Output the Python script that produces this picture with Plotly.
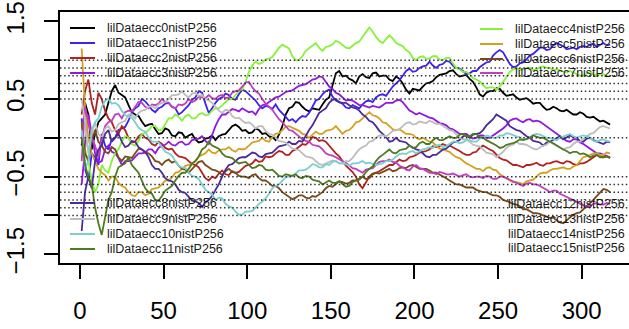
import plotly.graph_objects as go

# ---------------- data ----------------
x_main = list(range(1, 318, 4))   # samples at x = 1, 5, ..., 317
x_mid = list(range(3, 316, 4))    # samples at x = 3, 7, ..., 315

series_names = ["lilDataecc%dnistP256" % i for i in range(16)]
series_colors = ["#000000", "#3F22EE", "#B22222", "#9218E0", "#86F23A", "#D4A020",
                 "#7A4A18", "#C23DC0", "#4B2A9A", "#BDBDBD", "#7ACFCF", "#4E7A22"]

y_ecc0 = [-0.10, 0.30, 0.05, 0.25, 0.45, 0.68, 0.55, 0.42, 0.30, 0.21,
          0.17, 0.11, 0.06, 0.10, 0.02, 0.06, 0.03, -0.02, -0.05, 0.00,
          -0.03, 0.04, 0.10, 0.17, 0.09, 0.06, 0.12, 0.05, 0.02, -0.03,
          0.15, 0.38, 0.46, 0.40, 0.34, 0.37, 0.43, 0.52, 0.83, 0.79,
          0.76, 0.70, 0.82, 0.77, 0.84, 0.80, 0.75, 0.79, 0.70, 0.57,
          0.62, 0.66, 0.71, 0.78, 0.82, 0.86, 0.82, 0.80, 0.76, 0.65,
          0.53, 0.60, 0.64, 0.58, 0.55, 0.52, 0.50, 0.48, 0.45, 0.40,
          0.37, 0.38, 0.34, 0.33, 0.30, 0.31, 0.26, 0.24, 0.22, 0.17]
y_ecc0_mid = [0.45, -0.15, 0.20, 0.30, 0.60, 0.58, 0.52, 0.33, 0.28, 0.15,
              0.18, 0.05, 0.12, 0.03, 0.07, 0.00, 0.05, -0.06, -0.01, 0.03,
              0.02, 0.05, 0.15, 0.14, 0.10, 0.07, 0.10, 0.06, 0.01, 0.04,
              0.30, 0.40, 0.45, 0.36, 0.38, 0.36, 0.49, 0.66, 0.86, 0.80,
              0.74, 0.79, 0.78, 0.83, 0.79, 0.80, 0.73, 0.76, 0.62, 0.63,
              0.61, 0.70, 0.73, 0.81, 0.83, 0.87, 0.79, 0.81, 0.72, 0.56,
              0.58, 0.60, 0.63, 0.54, 0.56, 0.49, 0.51, 0.44, 0.45, 0.36,
              0.40, 0.35, 0.36, 0.30, 0.33, 0.27, 0.27, 0.21, 0.20]

y_ecc1 = [0.25, -0.55, -0.25, 0.05, -0.15, 0.00, 0.12, 0.22, 0.38, 0.50,
          0.42, 0.33, 0.40, 0.45, 0.38, 0.33, 0.42, 0.52, 0.58, 0.32,
          0.45, 0.52, 0.55, 0.49, 0.62, 0.56, 0.48, 0.38, 0.40, 0.43,
          0.32, 0.22, 0.20, 0.28, 0.32, 0.48, 0.56, 0.62, 0.48, 0.44,
          0.38, 0.40, 0.43, 0.48, 0.52, 0.56, 0.60, 0.70, 0.80, 0.89,
          0.86, 0.92, 0.98, 0.90, 0.95, 0.98, 0.90, 0.86, 0.83, 0.86,
          0.94, 0.98, 1.10, 1.10, 0.95, 0.92, 0.97, 1.06, 1.12, 1.16,
          1.14, 1.22, 1.18, 1.15, 1.14, 1.18, 1.20, 1.17, 1.22, 1.20]
y_ecc1_mid = [-0.40, -0.20, -0.35, -0.10, -0.02, 0.10, 0.14, 0.33, 0.41, 0.47,
              0.36, 0.38, 0.44, 0.40, 0.30, 0.38, 0.49, 0.60, 0.44, 0.38,
              0.50, 0.57, 0.50, 0.56, 0.60, 0.51, 0.42, 0.41, 0.37, 0.36,
              0.27, 0.24, 0.25, 0.27, 0.41, 0.50, 0.60, 0.53, 0.46, 0.39,
              0.42, 0.38, 0.47, 0.46, 0.55, 0.54, 0.66, 0.74, 0.86, 0.85,
              0.90, 0.93, 0.93, 0.94, 0.99, 0.93, 0.89, 0.82, 0.86, 0.91,
              0.97, 1.06, 1.13, 1.02, 0.91, 0.96, 1.01, 1.08, 1.16, 1.13,
              1.19, 1.20, 1.14, 1.16, 1.17, 1.17, 1.21, 1.19, 1.19]

y_ecc2 = [0.30, 0.75, 0.30, 0.50, 0.25, 0.10, 0.15, 0.00, -0.05, 0.05,
          -0.02, -0.10, -0.08, -0.15, -0.20, -0.25, -0.30, -0.35, -0.45, -0.55,
          -0.52, -0.42, -0.48, -0.45, -0.40, -0.35, -0.28, -0.30, -0.25, -0.20,
          -0.18, -0.22, -0.15, -0.08, -0.05, 0.00, -0.03, -0.10, -0.20, -0.30,
          -0.40, -0.50, -0.65, -0.50, -0.45, -0.40, -0.35, -0.32, -0.30, -0.25,
          -0.22, -0.18, -0.15, -0.12, -0.08, -0.10, -0.15, -0.20, -0.22, -0.18,
          -0.10, -0.15, -0.22, -0.28, -0.32, -0.35, -0.38, -0.35, -0.32, -0.36,
          -0.33, -0.30, -0.33, -0.31, -0.35, -0.33, -0.28, -0.22, -0.25, -0.26]
y_ecc2_mid = [0.60, 0.45, 0.58, 0.35, 0.20, 0.05, 0.10, -0.06, 0.02, 0.00,
              -0.08, -0.05, -0.13, -0.14, -0.24, -0.26, -0.34, -0.38, -0.52, -0.50,
              -0.46, -0.47, -0.43, -0.44, -0.36, -0.33, -0.31, -0.24, -0.24, -0.17,
              -0.22, -0.17, -0.12, -0.09, 0.01, -0.04, -0.05, -0.16, -0.24, -0.36,
              -0.44, -0.60, -0.58, -0.46, -0.43, -0.37, -0.35, -0.28, -0.29, -0.24,
              -0.19, -0.17, -0.11, -0.11, -0.10, -0.12, -0.17, -0.22, -0.19, -0.13,
              -0.13, -0.17, -0.26, -0.29, -0.35, -0.36, -0.35, -0.34, -0.35, -0.33,
              -0.31, -0.32, -0.30, -0.34, -0.33, -0.31, -0.24, -0.24, -0.24]

y_ecc3 = [-0.60, 0.30, -0.20, -0.30, -0.10, -0.20, -0.35, -0.30, -0.25, -0.20,
          -0.15, -0.20, -0.10, -0.05, -0.10, -0.05, -0.08, -0.02, 0.02, -0.08,
          0.15, 0.30, 0.33, 0.36, 0.38, 0.33, 0.30, 0.42, 0.46, 0.52,
          0.56, 0.60, 0.64, 0.68, 0.72, 0.76, 0.78, 0.66, 0.58, 0.52,
          0.49, 0.45, 0.42, 0.39, 0.40, 0.42, 0.45, 0.48, 0.46, 0.35,
          0.30, 0.30, 0.26, 0.22, 0.18, 0.12, 0.08, 0.05, 0.02, 0.00,
          0.03, 0.00, 0.05, 0.12, 0.22, 0.25, 0.20, 0.24, 0.22, 0.18,
          0.12, 0.05, 0.00, -0.05, -0.02, -0.08, -0.15, -0.20, -0.22, -0.25]
y_ecc3_mid = [-0.10, 0.05, -0.32, -0.15, -0.18, -0.26, -0.30, -0.29, -0.20, -0.19,
              -0.15, -0.13, -0.09, -0.09, -0.06, -0.09, -0.03, -0.01, -0.04, 0.05,
              0.24, 0.30, 0.37, 0.34, 0.35, 0.34, 0.37, 0.43, 0.50, 0.53,
              0.59, 0.61, 0.67, 0.69, 0.75, 0.79, 0.72, 0.63, 0.56, 0.48,
              0.48, 0.42, 0.41, 0.41, 0.39, 0.45, 0.45, 0.49, 0.40, 0.33,
              0.32, 0.27, 0.25, 0.19, 0.16, 0.11, 0.05, 0.05, -0.01, 0.03,
              0.00, 0.03, 0.09, 0.16, 0.24, 0.22, 0.23, 0.21, 0.21, 0.14,
              0.09, 0.03, -0.04, -0.02, -0.06, -0.11, -0.17, -0.20, -0.24]

y_ecc4 = [0.20, -0.30, -0.70, -0.35, -0.45, -0.20, -0.05, 0.00, -0.10, 0.05,
          0.10, 0.15, 0.10, 0.25, 0.30, 0.22, 0.30, 0.25, 0.32, 0.30,
          0.38, 0.42, 0.50, 0.55, 0.62, 0.85, 0.98, 0.97, 1.02, 1.10,
          1.20, 1.15, 1.00, 1.05, 1.15, 1.22, 1.12, 1.18, 1.25, 1.20,
          1.15, 1.22, 1.30, 1.42, 1.30, 1.22, 1.32, 1.22, 1.18, 1.10,
          1.00, 1.05, 1.02, 1.05, 1.00, 1.03, 0.90, 0.85, 0.82, 0.75,
          0.68, 0.65, 0.62, 0.72, 0.85, 0.90, 0.88, 0.90, 0.88, 0.92,
          0.90, 0.88, 0.85, 0.86, 0.82, 0.80, 0.85, 0.80, 0.82, 0.80]
y_ecc4_mid = [-0.15, -0.55, -0.60, -0.42, -0.30, -0.15, 0.02, -0.08, -0.04, 0.06,
              0.15, 0.10, 0.18, 0.25, 0.27, 0.28, 0.25, 0.30, 0.29, 0.35,
              0.38, 0.47, 0.50, 0.60, 0.72, 0.93, 0.95, 1.01, 1.04, 1.16,
              1.17, 1.05, 1.00, 1.12, 1.18, 1.16, 1.17, 1.20, 1.23, 1.16,
              1.19, 1.24, 1.36, 1.37, 1.25, 1.27, 1.28, 1.20, 1.13, 1.03,
              1.04, 1.02, 1.05, 1.01, 1.03, 0.96, 0.88, 0.85, 0.77, 0.73,
              0.64, 0.65, 0.66, 0.79, 0.88, 0.87, 0.90, 0.87, 0.91, 0.90,
              0.87, 0.87, 0.84, 0.84, 0.80, 0.83, 0.82, 0.82, 0.79]

y_ecc5 = [1.15, 0.00, -0.30, -0.45, -0.55, -0.50, -0.62, -0.70, -0.75, -0.70,
          -0.72, -0.65, -0.60, -0.55, -0.45, -0.40, -0.35, -0.30, -0.22, -0.15,
          -0.20, -0.15, -0.12, -0.18, -0.15, -0.10, -0.05, 0.00, -0.05, 0.05,
          0.10, 0.15, 0.12, 0.05, 0.00, 0.08, 0.05, 0.10, 0.15, 0.05,
          0.10, 0.20, 0.25, 0.33, 0.28, 0.20, 0.15, 0.10, 0.08, 0.05,
          0.00, 0.00, -0.05, -0.10, -0.15, -0.18, -0.25, -0.30, -0.35, -0.40,
          -0.43, -0.38, -0.42, -0.50, -0.55, -0.57, -0.60, -0.55, -0.50, -0.45,
          -0.42, -0.40, -0.38, -0.40, -0.35, -0.25, -0.22, -0.20, -0.22, -0.20]
y_ecc5_mid = [0.40, -0.20, -0.40, -0.48, -0.50, -0.58, -0.64, -0.74, -0.70, -0.74,
              -0.66, -0.64, -0.55, -0.51, -0.44, -0.36, -0.34, -0.24, -0.20, -0.19,
              -0.16, -0.15, -0.16, -0.14, -0.14, -0.06, -0.04, -0.04, 0.01, 0.06,
              0.14, 0.13, 0.09, 0.04, 0.04, 0.05, 0.09, 0.11, 0.10, 0.09,
              0.14, 0.21, 0.30, 0.29, 0.25, 0.19, 0.11, 0.11, 0.05, 0.04,
              -0.02, -0.03, -0.06, -0.14, -0.16, -0.22, -0.26, -0.33, -0.37, -0.40,
              -0.39, -0.41, -0.47, -0.52, -0.57, -0.58, -0.56, -0.54, -0.46, -0.45,
              -0.40, -0.39, -0.40, -0.37, -0.30, -0.24, -0.20, -0.22, -0.19]

y_ecc6 = [0.20, -0.30, 0.10, -0.10, -0.20, -0.15, -0.30, -0.25, -0.20, -0.15,
          -0.20, -0.30, -0.35, -0.28, -0.30, -0.40, -0.45, -0.35, -0.30, -0.38,
          -0.42, -0.48, -0.40, -0.45, -0.50, -0.52, -0.47, -0.55, -0.58, -0.62,
          -0.70, -0.75, -0.77, -0.74, -0.78, -0.76, -0.70, -0.62, -0.60, -0.57,
          -0.58, -0.55, -0.50, -0.52, -0.45, -0.44, -0.40, -0.42, -0.38, -0.36,
          -0.38, -0.40, -0.42, -0.45, -0.50, -0.55, -0.60, -0.62, -0.64, -0.67,
          -0.70, -0.72, -0.74, -0.80, -0.83, -0.86, -0.92, -0.95, -0.97, -1.00,
          -1.03, -1.06, -1.10, -1.02, -0.97, -0.92, -0.85, -0.75, -0.66, -0.70]
y_ecc6_mid = [-0.20, -0.05, -0.05, -0.18, -0.12, -0.25, -0.24, -0.26, -0.14, -0.19,
              -0.24, -0.31, -0.30, -0.32, -0.36, -0.41, -0.40, -0.31, -0.35, -0.41,
              -0.44, -0.43, -0.44, -0.49, -0.50, -0.48, -0.52, -0.55, -0.62, -0.65,
              -0.73, -0.79, -0.74, -0.77, -0.75, -0.73, -0.65, -0.63, -0.56, -0.59,
              -0.55, -0.53, -0.53, -0.47, -0.46, -0.41, -0.43, -0.39, -0.39, -0.35,
              -0.40, -0.40, -0.45, -0.47, -0.52, -0.58, -0.60, -0.64, -0.64, -0.69,
              -0.70, -0.74, -0.76, -0.81, -0.85, -0.88, -0.92, -0.97, -0.98, -1.02,
              -1.03, -1.09, -1.06, -0.99, -0.96, -0.88, -0.80, -0.70, -0.67]

y_ecc7 = [-0.30, 0.20, -0.10, 0.00, 0.20, 0.30, 0.25, 0.35, 0.40, 0.45,
          0.38, 0.42, 0.50, 0.45, 0.38, 0.42, 0.50, 0.48, 0.52, 0.55,
          0.50, 0.55, 0.52, 0.60, 0.66, 0.72, 0.60, 0.50, 0.40, 0.30,
          0.20, 0.10, 0.05, -0.02, -0.05, -0.10, -0.15, -0.22, -0.25, -0.30,
          -0.35, -0.40, -0.45, -0.40, -0.35, -0.30, -0.28, -0.32, -0.38, -0.42,
          -0.35, -0.40, -0.45, -0.47, -0.45, -0.47, -0.48, -0.48, -0.50, -0.50,
          -0.52, -0.50, -0.53, -0.50, -0.53, -0.58, -0.62, -0.58, -0.60, -0.64,
          -0.70, -0.68, -0.74, -0.78, -0.82, -0.86, -0.88, -0.84, -0.86, -0.85]
y_ecc7_mid = [0.40, 0.00, -0.25, 0.15, 0.22, 0.31, 0.33, 0.34, 0.46, 0.40,
              0.43, 0.44, 0.46, 0.40, 0.43, 0.44, 0.46, 0.53, 0.51, 0.51,
              0.54, 0.51, 0.58, 0.61, 0.71, 0.65, 0.57, 0.44, 0.36, 0.24,
              0.15, 0.09, 0.01, -0.04, -0.09, -0.11, -0.20, -0.23, -0.28, -0.32,
              -0.39, -0.42, -0.41, -0.39, -0.31, -0.30, -0.31, -0.36, -0.41, -0.37,
              -0.39, -0.42, -0.45, -0.44, -0.47, -0.46, -0.50, -0.47, -0.51, -0.50,
              -0.49, -0.53, -0.50, -0.52, -0.56, -0.60, -0.59, -0.60, -0.62, -0.67,
              -0.68, -0.72, -0.76, -0.81, -0.84, -0.89, -0.85, -0.86, -0.84]

y_ecc8 = [-1.20, -0.50, -0.30, -0.10, 0.10, 0.00, -0.05, -0.10, -0.05, -0.15,
          -0.25, -0.40, -0.45, -0.55, -0.60, -0.70, -0.76, -0.82, -0.89, -0.80,
          -0.67, -0.50, -0.35, -0.30, -0.25, -0.22, -0.20, -0.25, -0.20, -0.15,
          -0.10, -0.05, -0.08, -0.05, 0.10, 0.25, 0.35, 0.45, 0.50, 0.45,
          0.42, 0.38, 0.30, 0.22, 0.15, 0.05, -0.05, 0.00, -0.05, -0.10,
          -0.15, -0.20, -0.25, -0.22, -0.15, -0.10, -0.05, 0.02, 0.00, 0.05,
          0.10, 0.20, 0.30, 0.25, 0.15, 0.10, 0.05, 0.00, -0.05, -0.10,
          -0.05, 0.00, -0.02, 0.03, 0.00, -0.05, 0.00, -0.05, -0.08, -0.06]
y_ecc8_mid = [-0.70, -0.65, -0.15, 0.05, -0.05, 0.05, -0.12, -0.04, -0.12, -0.18,
              -0.35, -0.40, -0.52, -0.56, -0.67, -0.71, -0.81, -0.84, -0.83, -0.75,
              -0.60, -0.41, -0.34, -0.26, -0.25, -0.19, -0.24, -0.21, -0.19, -0.11,
              -0.09, -0.08, -0.04, 0.03, 0.16, 0.32, 0.38, 0.49, 0.46, 0.45,
              0.39, 0.35, 0.27, 0.20, 0.09, 0.01, -0.04, -0.04, -0.06, -0.13,
              -0.16, -0.24, -0.22, -0.19, -0.14, -0.06, -0.03, 0.03, 0.04, 0.06,
              0.16, 0.24, 0.27, 0.22, 0.12, 0.09, 0.02, -0.04, -0.06, -0.06,
              -0.03, 0.02, 0.01, 0.01, -0.04, -0.01, -0.03, -0.07, -0.05]

y_ecc9 = [0.50, -0.20, 0.20, 0.00, 0.15, 0.10, 0.20, 0.30, 0.25, 0.35,
          0.40, 0.38, 0.45, 0.50, 0.55, 0.60, 0.52, 0.58, 0.55, 0.48,
          0.40, 0.32, 0.35, 0.25, 0.22, 0.20, 0.12, 0.15, 0.05, 0.00,
          -0.05, -0.10, -0.15, -0.20, -0.25, -0.30, -0.35, -0.32, -0.30, -0.33,
          -0.30, -0.20, -0.12, -0.05, 0.00, 0.03, 0.05, 0.10, 0.15, 0.20,
          0.18, 0.20, 0.22, 0.18, 0.15, 0.10, 0.05, -0.02, -0.05, -0.10,
          -0.15, -0.20, -0.25, -0.18, -0.10, -0.05, -0.08, -0.12, -0.15, -0.10,
          -0.05, -0.10, -0.15, -0.12, -0.05, -0.02, 0.05, 0.10, 0.15, 0.12]
y_ecc9_mid = [0.20, 0.05, 0.05, 0.12, 0.08, 0.18, 0.22, 0.30, 0.32, 0.36,
              0.41, 0.43, 0.46, 0.55, 0.56, 0.55, 0.57, 0.54, 0.50, 0.45,
              0.35, 0.36, 0.28, 0.26, 0.19, 0.17, 0.15, 0.09, 0.04, -0.04,
              -0.06, -0.14, -0.16, -0.24, -0.26, -0.34, -0.33, -0.29, -0.33, -0.30,
              -0.26, -0.15, -0.10, -0.04, 0.03, 0.02, 0.09, 0.11, 0.19, 0.17,
              0.21, 0.19, 0.20, 0.18, 0.12, 0.09, 0.00, -0.02, -0.09, -0.11,
              -0.19, -0.21, -0.22, -0.13, -0.09, -0.08, -0.09, -0.14, -0.12, -0.09,
              -0.08, -0.13, -0.13, -0.08, -0.05, 0.02, 0.06, 0.14, 0.13]

y_ecc10 = [0.10, -0.30, 0.20, 0.40, 0.50, 0.45, 0.35, 0.28, 0.20, 0.10,
           0.00, -0.05, -0.12, -0.20, -0.30, -0.38, -0.45, -0.50, -0.60, -0.70,
           -0.80, -0.78, -0.88, -0.95, -0.99, -0.95, -0.90, -0.82, -0.72, -0.62,
           -0.55, -0.50, -0.46, -0.42, -0.38, -0.35, -0.38, -0.35, -0.30, -0.33,
           -0.36, -0.33, -0.30, -0.32, -0.35, -0.33, -0.30, -0.25, -0.20, -0.18,
           -0.20, -0.15, -0.12, -0.10, -0.12, -0.08, -0.05, -0.06, -0.03, -0.05,
           0.00, 0.02, 0.00, 0.03, 0.05, 0.02, -0.02, 0.00, 0.05, 0.02,
           0.00, -0.03, 0.02, 0.05, 0.00, 0.03, 0.00, -0.05, -0.02, -0.05]
y_ecc10_mid = [-0.40, 0.10, 0.25, 0.48, 0.44, 0.42, 0.29, 0.26, 0.13, 0.08,
               -0.05, -0.06, -0.18, -0.23, -0.36, -0.39, -0.49, -0.53, -0.67, -0.73,
               -0.77, -0.85, -0.90, -0.99, -0.95, -0.94, -0.85, -0.78, -0.65, -0.60,
               -0.51, -0.49, -0.42, -0.41, -0.34, -0.38, -0.34, -0.31, -0.33, -0.34,
               -0.33, -0.32, -0.33, -0.33, -0.34, -0.30, -0.28, -0.21, -0.21, -0.17,
               -0.17, -0.14, -0.13, -0.09, -0.11, -0.05, -0.07, -0.03, -0.05, -0.01,
               0.03, 0.00, 0.03, 0.06, 0.03, 0.01, -0.02, 0.04, 0.04, 0.00,
               -0.02, 0.00, 0.04, 0.02, 0.02, 0.02, -0.04, -0.03, -0.04]

y_ecc11 = [0.00, -0.50, -0.90, -1.25, -0.80, -0.50, -0.35, -0.25, -0.40, -0.55,
           -0.70, -0.80, -0.75, -0.65, -0.55, -0.45, -0.40, -0.30, -0.15, -0.05,
           -0.12, -0.20, -0.25, -0.30, -0.32, -0.35, -0.38, -0.36, -0.42, -0.45,
           -0.50, -0.48, -0.47, -0.52, -0.50, -0.55, -0.60, -0.55, -0.58, -0.60,
           -0.62, -0.55, -0.50, -0.40, -0.30, -0.22, -0.15, -0.20, -0.15, -0.10,
           -0.12, -0.05, -0.08, 0.00, -0.03, 0.02, 0.00, 0.05, 0.02, 0.05,
           0.00, -0.05, -0.10, -0.12, -0.08, -0.05, -0.03, 0.00, 0.02, 0.00,
           -0.05, -0.10, -0.15, -0.20, -0.18, -0.20, -0.25, -0.22, -0.25, -0.26]
y_ecc11_mid = [-0.35, -0.60, -1.10, -1.00, -0.70, -0.38, -0.33, -0.35, -0.45, -0.65,
               -0.72, -0.81, -0.68, -0.62, -0.49, -0.45, -0.33, -0.24, -0.12, -0.10,
               -0.14, -0.24, -0.26, -0.33, -0.31, -0.39, -0.35, -0.41, -0.41, -0.49,
               -0.47, -0.49, -0.51, -0.49, -0.54, -0.56, -0.58, -0.58, -0.56, -0.63,
               -0.57, -0.54, -0.44, -0.37, -0.25, -0.19, -0.19, -0.16, -0.14, -0.13,
               -0.07, -0.08, -0.03, -0.03, 0.00, 0.00, 0.04, 0.02, 0.05, 0.01,
               -0.03, -0.07, -0.13, -0.09, -0.07, -0.02, -0.02, 0.03, 0.00, -0.03,
               -0.07, -0.13, -0.17, -0.18, -0.21, -0.22, -0.23, -0.25, -0.24]

series_main = [y_ecc0, y_ecc1, y_ecc2, y_ecc3, y_ecc4, y_ecc5,
               y_ecc6, y_ecc7, y_ecc8, y_ecc9, y_ecc10, y_ecc11]
series_mid = [y_ecc0_mid, y_ecc1_mid, y_ecc2_mid, y_ecc3_mid, y_ecc4_mid, y_ecc5_mid,
              y_ecc6_mid, y_ecc7_mid, y_ecc8_mid, y_ecc9_mid, y_ecc10_mid, y_ecc11_mid]

x_ticks = [0, 50, 100, 150, 200, 250, 300]
y_ticks = [-1.5, -1.0, -0.5, 0.0, 0.5, 1.0, 1.5]
y_tick_text = ["\u22121.5", "", "\u22120.5", "", "0.5", "", "1.5"]
hline_levels = [-1.0, -0.9, -0.8, -0.7, -0.6, -0.5, 0.0, 0.5, 0.6, 0.7, 0.8, 0.9, 1.0]

# ---------------- layout constants ----------------
W, H = 629, 329
PL, PR, PT, PB = 60, 629, 12, 263  # plot area in pixels
FONT = "Liberation Sans, Arial, Helvetica, sans-serif"


def paper_x(px):
    return (px - PL) / (PR - PL)


def paper_y(py):
    return (PB - py) / (PB - PT)


def merge(main_x, main_y, mid_x, mid_y):
    pts = sorted(list(zip(main_x, main_y)) + list(zip(mid_x, mid_y)))
    return [p[0] for p in pts], [p[1] for p in pts]


fig = go.Figure()
for name, col, ym, yd in zip(series_names, series_colors, series_main, series_mid):
    xs, ys = merge(x_main, ym, x_mid, yd)
    fig.add_trace(go.Scatter(x=xs, y=ys, mode="lines", name=name,
                             line=dict(color=col, width=1.8), showlegend=False))

shapes = []
for lv in hline_levels:
    shapes.append(dict(type="line", xref="paper", x0=0, x1=1, yref="y", y0=lv, y1=lv,
                       line=dict(color="#333333", width=1.5, dash="1.5px,2.6px"),
                       layer="above"))

# legends: four corner blocks without a box
legend_blocks = [
    dict(idx=[0, 1, 2, 3], sample=(70, 95), text_x=107, rows=[28, 43, 58, 73]),
    dict(idx=[4, 5, 6, 7], sample=(480, 503), text_x=515, rows=[29, 44, 59, 73]),
    dict(idx=[8, 9, 10, 11], sample=(70, 95), text_x=107, rows=[203, 219, 234, 249]),
    dict(idx=[12, 13, 14, 15], sample=None, text_x=508, rows=[204, 219, 234, 248]),
]
annotations = []
for blk in legend_blocks:
    for i, py in zip(blk["idx"], blk["rows"]):
        if blk["sample"] is not None and i < len(series_colors):
            shapes.append(dict(type="line", xref="paper", yref="paper",
                               x0=paper_x(blk["sample"][0]), x1=paper_x(blk["sample"][1]),
                               y0=paper_y(py), y1=paper_y(py),
                               line=dict(color=series_colors[i], width=2)))
        annotations.append(dict(x=paper_x(blk["text_x"] - 2), y=paper_y(py), xref="paper", yref="paper",
                                text=series_names[i], showarrow=False, xanchor="left", yanchor="middle",
                                font=dict(family=FONT, size=12.5, color="#1a1a1a")))

fig.update_layout(
    width=W, height=H,
    margin=dict(l=PL, r=W - PR, t=PT, b=H - PB, pad=0),
    plot_bgcolor="white", paper_bgcolor="white",
    shapes=shapes, annotations=annotations,
    showlegend=False,
    xaxis=dict(range=[-11.96, 328.3], tickvals=x_ticks, ticktext=[str(v) for v in x_ticks],
               showgrid=False, zeroline=False, showline=True, mirror=True,
               linecolor="black", linewidth=2, ticks="outside", ticklen=14, tickwidth=2,
               tickcolor="black", ticklabelstandoff=11,
               tickfont=dict(family=FONT, size=24, color="black")),
    yaxis=dict(range=[-1.612, 1.62], tickvals=y_ticks, ticktext=y_tick_text,
               showgrid=False, zeroline=False, showline=True, mirror=False,
               linecolor="black", linewidth=2, ticks="outside", ticklen=14, tickwidth=2,
               tickcolor="black", tickangle=-90, ticklabelstandoff=10,
               tickfont=dict(family=FONT, size=24, color="black")),
)

fig.write_html("out.html")
